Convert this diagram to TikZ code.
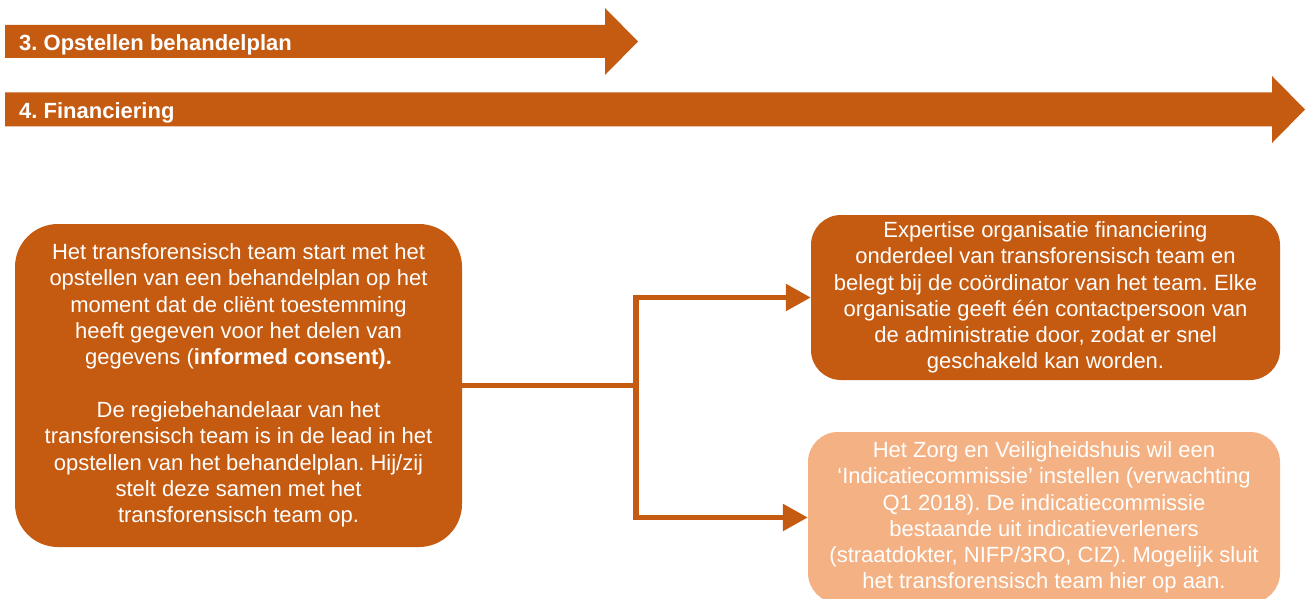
\documentclass[tikz,border=0pt]{standalone}
\usepackage{fontspec}
\setmainfont{Liberation Sans}
\frenchspacing
\usetikzlibrary{arrows.meta}
\definecolor{darkor}{HTML}{C55A11}
\definecolor{lightor}{HTML}{F4B183}
\tikzset{
  bar/.style={fill=darkor, draw=none},
  bartext/.style={text=white, font=\fontsize{22}{26}\selectfont\bfseries\frenchspacing, anchor=base west, inner sep=0pt},
  box/.style={rectangle, rounded corners=#1, draw=none, text=white, align=center,
    font=\fontsize{22}{26.3}\selectfont\frenchspacing, inner sep=0pt},
  conn/.style={draw=darkor, line width=5.5pt, -{Triangle[length=25pt,width=26pt]}},
}
\begin{document}
\begin{tikzpicture}[x=1pt,y=-1pt]
\useasboundingbox (0,0) rectangle (1311,599);
% phase bars
\fill[bar] (5,25) -- (605,25) -- (605,8) -- (638,41.5) -- (605,75) -- (605,58) -- (5,58) -- cycle;
\node[bartext] (p3) at (19,51) {3. Opstellen behandelplan};
\fill[bar] (5,92.5) -- (1272,92.5) -- (1272,76) -- (1305,109.5) -- (1272,143) -- (1272,126.5) -- (5,126.5) -- cycle;
\node[bartext] (p4) at (19,118) {4. Financiering};
% boxes
\node[box=43pt, fill=darkor, minimum width=447pt, minimum height=323pt] (L) at (238.5,385.5)
 {Het transforensisch team start met het\\opstellen van een behandelplan op het\\moment dat de cliënt toestemming\\heeft gegeven voor het delen van\\gegevens (\textbf{informed consent).}\\[26.3pt]De regiebehandelaar van het\\transforensisch team is in de lead in het\\opstellen van het behandelplan. Hij/zij\\stelt deze samen met het\\transforensisch team op.};
\node[box=30pt, fill=darkor, minimum width=469pt, minimum height=165pt] (T) at (1045.5,297.5)
 {Expertise organisatie financiering\\onderdeel van transforensisch team en\\belegt bij de coördinator van het team. Elke\\organisatie geeft één contactpersoon van\\de administratie door, zodat er snel\\geschakeld kan worden.};
\node[box=30pt, fill=lightor, minimum width=472pt, minimum height=171pt] (B) at (1044,517.5)
 {Het Zorg en Veiligheidshuis wil een\\‘Indicatiecommissie’ instellen (verwachting\\Q1 2018). De indicatiecommissie\\bestaande uit indicatieverleners\\(straatdokter, NIFP/3RO, CIZ). Mogelijk sluit\\het transforensisch team hier op aan.};
% connectors
\coordinate (J) at (636,385.5);
\draw[conn] (L.east) -- (J) |- (T.west);
\draw[conn] (L.east) -- (J) |- (B.west);
\end{tikzpicture}
\end{document}
